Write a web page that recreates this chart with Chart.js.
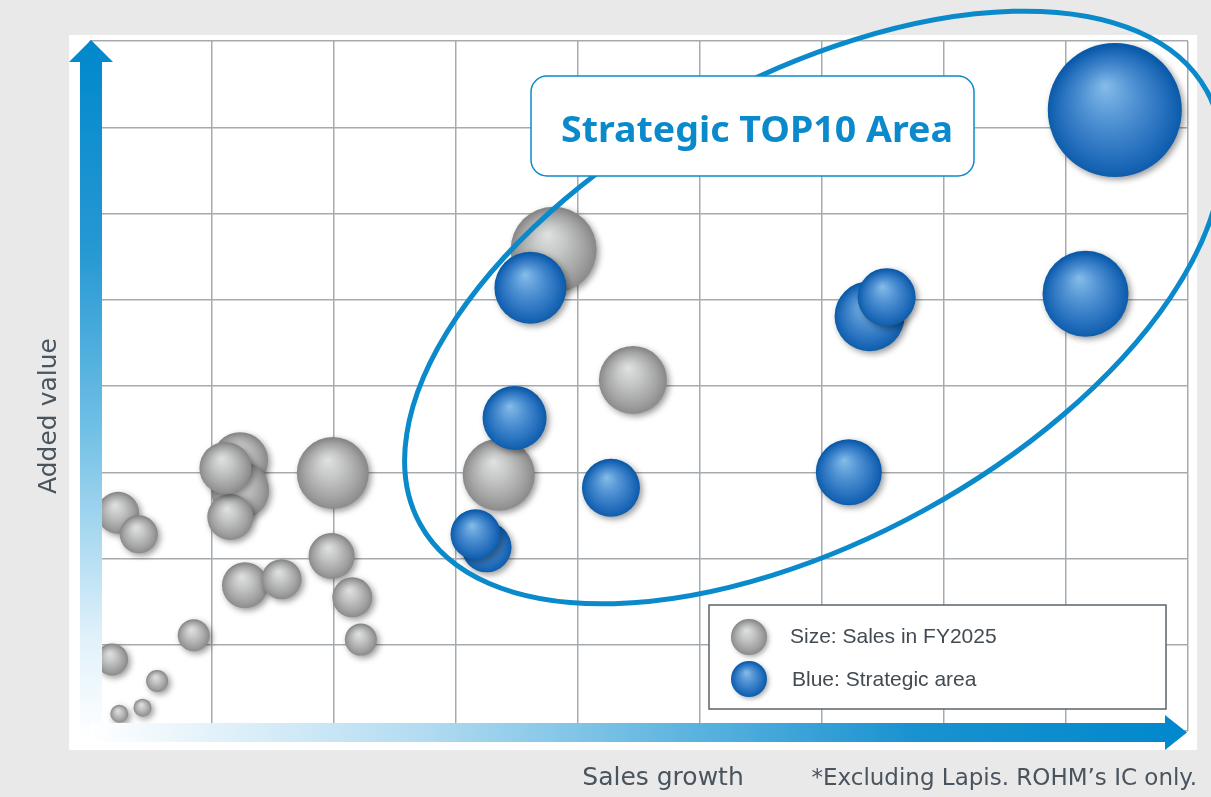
<!DOCTYPE html>
<html>
<head>
<meta charset="utf-8">
<title>Strategic TOP10 Area</title>
<script src="https://cdn.jsdelivr.net/npm/chart.js@4/dist/chart.umd.min.js"></script>
<style>
  body { margin: 0; background: #e9e9e9; }
  canvas { display: block; }
</style>
</head>
<body>
<canvas id="myChart" width="1211" height="797"></canvas>
<script>
// products: x = sales growth, y = added value (grid units), r = sales size (px)
const grayX = [0.23, 0.40, 1.23, 1.23, 1.15, 1.11, 1.99, 1.27, 1.57, 1.98, 2.15, 2.22, 0.85, 0.18, 0.55, 0.43, 0.24, 3.80, 4.45, 3.35];
const grayY = [2.53, 2.28, 3.14, 2.79, 2.48, 3.05, 2.99, 1.69, 1.76, 2.03, 1.55, 1.06, 1.11, 0.83, 0.58, 0.27, 0.20, 5.58, 4.07, 2.97];
const grayR = [21, 19, 28, 29, 23, 26, 36, 23, 20, 23, 20, 16, 16, 16, 11, 9, 9, 43, 34, 36];

// strategic area
const blueX = [8.40, 3.61, 6.39, 6.53, 8.16, 3.48, 4.27, 6.22, 3.25, 3.16];
const blueY = [7.20, 5.14, 4.81, 5.03, 5.07, 3.63, 2.82, 3.00, 2.13, 2.28];
const blueR = [67, 36, 35, 29, 43, 32, 29, 33, 25, 25];

const xTitle = 'Sales growth';
const yTitle = 'Added value';
const areaLabel = 'Strategic TOP10 Area';
const legendLabels = ['Size: Sales in FY2025', 'Blue: Strategic area'];
const footnote = '*Excluding Lapis. ROHM\u2019s IC only.';

// ellipse round the strategic area, centre in grid units
const area = { x: 5.93, y: 4.91, a: 449, b: 231, angle: -0.503 };

const grayStops = [[0, '#e0e1e1'], [0.35, '#c6c7c7'], [0.75, '#a2a2a2'], [1, '#868686']];
const blueStops = [[0, '#86bde9'], [0.35, '#5596d5'], [0.75, '#2670be'], [1, '#0859a8']];
const blue = '#0a8acb';
const textGray = '#4a545e';

function ball(ctx, x, y, r, stops) {
    let g = ctx.createRadialGradient(x - r * 0.15, y - r * 0.37, 0, x, y + r * 0.05, r * 1.02);
    stops.forEach(s => g.addColorStop(s[0], s[1]));
    return g;
}

// gradient per bubble, placed from the scales
function sphere(stops) {
    return function(c) {
        if (c.type !== 'data' || !c.raw) return stops[2][1];
        let chart = c.chart;
        if (!chart.scales.x || !chart.scales.y) return stops[2][1];
        let x = chart.scales.x.getPixelForValue(c.raw.x);
        let y = chart.scales.y.getPixelForValue(c.raw.y);
        if (!isFinite(x) || !isFinite(y)) return stops[2][1];
        return ball(chart.ctx, x, y, c.raw.r, stops);
    };
}

const toPoints = (xs, ys, rs) => xs.map((x, i) => ({ x: x, y: ys[i], r: rs[i] }));

const background = {
    id: 'background',
    beforeDraw(chart) {
        let ctx = chart.ctx;
        ctx.save();
        ctx.fillStyle = '#e9e9e9';
        ctx.fillRect(0, 0, chart.width, chart.height);
        ctx.fillStyle = '#ffffff';
        ctx.fillRect(69, 35, 1128, 715);
        ctx.restore();
    }
};

const shadow = {
    id: 'shadow',
    beforeDatasetsDraw(chart) {
        let ctx = chart.ctx;
        ctx.save();
        ctx.shadowColor = 'rgba(0,0,0,0.4)';
        ctx.shadowBlur = 6;
        ctx.shadowOffsetX = 2.5;
        ctx.shadowOffsetY = 2.5;
    },
    afterDatasetsDraw(chart) {
        chart.ctx.restore();
    }
};

function roundRect(ctx, x, y, w, h, r) {
    ctx.beginPath();
    ctx.moveTo(x + r, y);
    ctx.arcTo(x + w, y, x + w, y + h, r);
    ctx.arcTo(x + w, y + h, x, y + h, r);
    ctx.arcTo(x, y + h, x, y, r);
    ctx.arcTo(x, y, x + w, y, r);
    ctx.closePath();
}

const overlay = {
    id: 'overlay',
    afterDraw(chart) {
        let ctx = chart.ctx;
        let sx = chart.scales.x, sy = chart.scales.y;
        let ca = chart.chartArea;
        ctx.save();

        // strategic area ellipse
        ctx.beginPath();
        ctx.ellipse(sx.getPixelForValue(area.x), sy.getPixelForValue(area.y), area.a, area.b, area.angle, 0, Math.PI * 2);
        ctx.strokeStyle = blue;
        ctx.lineWidth = 5;
        ctx.stroke();

        // callout box
        roundRect(ctx, 531, 76, 443, 100, 16);
        ctx.fillStyle = '#ffffff';
        ctx.fill();
        ctx.lineWidth = 1.5;
        ctx.strokeStyle = blue;
        ctx.stroke();
        ctx.fillStyle = blue;
        ctx.font = 'bold 35px "Noto Sans", "Liberation Sans", sans-serif';
        ctx.textBaseline = 'alphabetic';
        let w = ctx.measureText(areaLabel).width;
        ctx.save();
        ctx.translate(561, 142);
        ctx.scale(392 / w, 1);
        ctx.fillText(areaLabel, 0, 0);
        ctx.restore();

        // legend
        ctx.fillStyle = '#ffffff';
        ctx.fillRect(709, 605, 457, 104);
        ctx.strokeStyle = '#5a636b';
        ctx.lineWidth = 1.5;
        ctx.strokeRect(709, 605, 457, 104);
        [grayStops, blueStops].forEach((stops, i) => {
            let y = 637 + i * 42;
            ctx.save();
            ctx.shadowColor = 'rgba(0,0,0,0.3)';
            ctx.shadowBlur = 4;
            ctx.shadowOffsetX = 2;
            ctx.shadowOffsetY = 2;
            ctx.beginPath();
            ctx.arc(749, y, 18, 0, Math.PI * 2);
            ctx.fillStyle = ball(ctx, 749, y, 18, stops);
            ctx.fill();
            ctx.restore();
            ctx.fillStyle = '#424a52';
            ctx.font = '21px "Liberation Sans", Arial, sans-serif';
            ctx.fillText(legendLabels[i], 790 + i * 2, y + 6 + i);
        });

        // y axis arrow
        let yg = ctx.createLinearGradient(0, 741, 0, 40);
        [[0, '#ffffff'], [0.15, '#e0f1fa'], [0.45, '#6fbfe5'], [0.7, '#2698d3'], [1, '#0088cc']]
            .forEach(s => yg.addColorStop(s[0], s[1]));
        ctx.fillStyle = yg;
        ctx.beginPath();
        ctx.moveTo(80, 741);
        ctx.lineTo(80, 62);
        ctx.lineTo(69, 62);
        ctx.lineTo(91, 40);
        ctx.lineTo(113, 62);
        ctx.lineTo(102, 62);
        ctx.lineTo(102, 741);
        ctx.closePath();
        ctx.fill();

        // x axis arrow
        let xg = ctx.createLinearGradient(ca.left, 0, 1187, 0);
        [[0, '#ffffff'], [0.3, '#b3dcf1'], [0.55, '#5bb3df'], [0.75, '#1a92d0'], [1, '#0088cc']]
            .forEach(s => xg.addColorStop(s[0], s[1]));
        ctx.fillStyle = xg;
        ctx.beginPath();
        ctx.moveTo(ca.left, 723);
        ctx.lineTo(1165, 723);
        ctx.lineTo(1165, 715);
        ctx.lineTo(1187, 732.5);
        ctx.lineTo(1165, 750);
        ctx.lineTo(1165, 742);
        ctx.lineTo(ca.left, 742);
        ctx.closePath();
        ctx.fill();

        // axis titles and note
        ctx.fillStyle = textGray;
        ctx.font = '25px "DejaVu Sans", Verdana, sans-serif';
        ctx.textAlign = 'center';
        ctx.fillText(xTitle, 663, 785);
        ctx.save();
        ctx.translate(56, 416);
        ctx.rotate(-Math.PI / 2);
        ctx.fillText(yTitle, 0, 0);
        ctx.restore();
        ctx.textAlign = 'right';
        ctx.font = '23px "DejaVu Sans", Verdana, sans-serif';
        ctx.fillText(footnote, 1197, 785);

        ctx.restore();
    }
};

const grid = { color: '#a6abb0', lineWidth: 1.5, drawTicks: false };

new Chart(document.getElementById('myChart'), {
    type: 'bubble',
    data: {
        datasets: [{
            label: legendLabels[1],
            data: toPoints(blueX, blueY, blueR),
            backgroundColor: sphere(blueStops),
            borderWidth: 0,
            clip: false
        }, {
            label: legendLabels[0],
            data: toPoints(grayX, grayY, grayR),
            backgroundColor: sphere(grayStops),
            borderWidth: 0,
            clip: false
        }]
    },
    options: {
        responsive: false,
        animation: false,
        events: [],
        layout: { autoPadding: false, padding: { left: 90, top: 41, right: 23, bottom: 66 } },
        scales: {
            x: { min: 0, max: 9, ticks: { display: false, stepSize: 1 }, grid: grid, border: { display: false } },
            y: { min: 0, max: 8, ticks: { display: false, stepSize: 1 }, grid: grid, border: { display: false } }
        },
        plugins: { legend: { display: false }, tooltip: { enabled: false } }
    },
    plugins: [background, shadow, overlay]
});
</script>
</body>
</html>
